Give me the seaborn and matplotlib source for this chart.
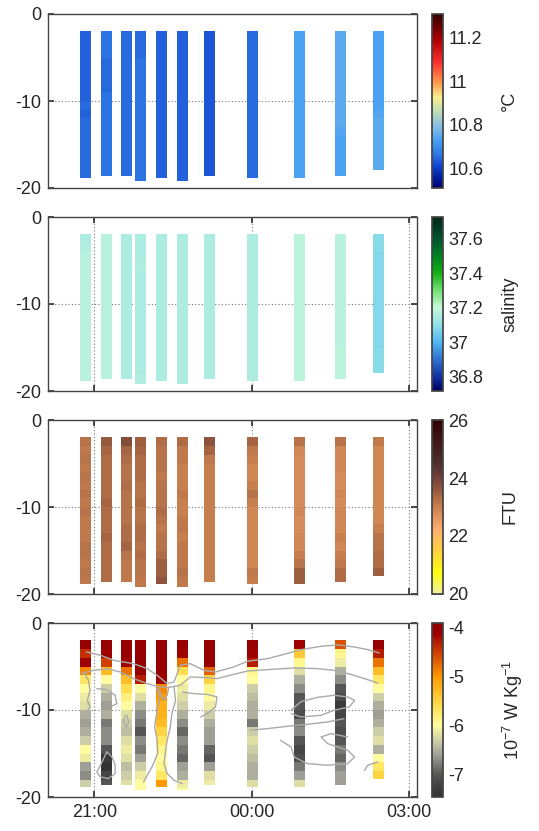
import numpy as np
import matplotlib
matplotlib.use("Agg")
import matplotlib.pyplot as plt
import seaborn as sns
from matplotlib.colors import LinearSegmentedColormap
from matplotlib.ticker import FormatStrFormatter

# cast times (hours, 24 = midnight) and profile bottoms (m)
cast_time = [20.84, 21.23, 21.62, 21.89, 22.29, 22.69, 23.19, 24.02, 24.92, 25.69, 26.41]
cast_bottom = [18.9, 18.65, 18.65, 19.2, 18.9, 19.2, 18.65, 18.9, 18.9, 18.65, 17.9]
cast_top = 2.0

# temperature (degC), 1 m bins from 2 m down
temperature = [
    [10.64, 10.64, 10.64, 10.64, 10.64, 10.64, 10.64, 10.64, 10.65, 10.64, 10.65, 10.65, 10.65, 10.65, 10.65, 10.65, 10.65],
    [10.66, 10.66, 10.66, 10.65, 10.65, 10.65, 10.65, 10.66, 10.66, 10.66, 10.66, 10.66, 10.66, 10.66, 10.66, 10.66, 10.66],
    [10.65, 10.65, 10.65, 10.65, 10.65, 10.65, 10.65, 10.65, 10.65, 10.65, 10.65, 10.65, 10.65, 10.65, 10.65, 10.65, 10.65],
    [10.65, 10.65, 10.65, 10.66, 10.66, 10.66, 10.66, 10.66, 10.66, 10.66, 10.66, 10.66, 10.66, 10.66, 10.66, 10.66, 10.66, 10.66],
    [10.64, 10.64, 10.64, 10.64, 10.64, 10.64, 10.64, 10.64, 10.64, 10.64, 10.64, 10.64, 10.64, 10.64, 10.64, 10.64, 10.64],
    [10.64, 10.64, 10.64, 10.64, 10.64, 10.64, 10.64, 10.64, 10.64, 10.64, 10.64, 10.64, 10.64, 10.64, 10.64, 10.64, 10.64, 10.64],
    [10.63, 10.63, 10.63, 10.63, 10.63, 10.63, 10.63, 10.63, 10.63, 10.63, 10.63, 10.63, 10.63, 10.63, 10.63, 10.63, 10.63],
    [10.65, 10.65, 10.65, 10.65, 10.65, 10.65, 10.65, 10.65, 10.65, 10.65, 10.65, 10.65, 10.65, 10.65, 10.65, 10.65, 10.65],
    [10.73, 10.73, 10.73, 10.73, 10.73, 10.73, 10.73, 10.73, 10.73, 10.73, 10.73, 10.73, 10.73, 10.73, 10.73, 10.73, 10.73],
    [10.75, 10.75, 10.75, 10.75, 10.75, 10.75, 10.75, 10.75, 10.75, 10.75, 10.75, 10.74, 10.73, 10.73, 10.73, 10.73, 10.73],
    [10.73, 10.73, 10.73, 10.73, 10.73, 10.73, 10.73, 10.73, 10.73, 10.74, 10.75, 10.75, 10.75, 10.75, 10.75, 10.75],
]

salinity = [
    [37.15, 37.16, 37.17, 37.17, 37.17, 37.17, 37.17, 37.17, 37.17, 37.17, 37.17, 37.17, 37.17, 37.17, 37.17, 37.17, 37.17],
    [37.17, 37.17, 37.17, 37.17, 37.17, 37.17, 37.17, 37.17, 37.17, 37.17, 37.17, 37.17, 37.17, 37.17, 37.17, 37.17, 37.17],
    [37.15, 37.15, 37.15, 37.15, 37.15, 37.15, 37.15, 37.15, 37.15, 37.15, 37.15, 37.15, 37.15, 37.15, 37.15, 37.15, 37.15],
    [37.15, 37.15, 37.15, 37.16, 37.15, 37.15, 37.15, 37.15, 37.15, 37.15, 37.15, 37.15, 37.15, 37.15, 37.15, 37.15, 37.16, 37.16],
    [37.15, 37.15, 37.15, 37.15, 37.15, 37.15, 37.15, 37.15, 37.15, 37.15, 37.15, 37.15, 37.15, 37.15, 37.15, 37.15, 37.15],
    [37.15, 37.15, 37.15, 37.15, 37.15, 37.15, 37.15, 37.15, 37.15, 37.15, 37.15, 37.15, 37.15, 37.15, 37.15, 37.15, 37.15, 37.15],
    [37.15, 37.15, 37.15, 37.15, 37.15, 37.15, 37.15, 37.15, 37.15, 37.15, 37.15, 37.15, 37.15, 37.15, 37.15, 37.15, 37.15],
    [37.15, 37.15, 37.15, 37.15, 37.15, 37.15, 37.15, 37.15, 37.15, 37.15, 37.15, 37.15, 37.15, 37.15, 37.15, 37.15, 37.15],
    [37.18, 37.18, 37.18, 37.18, 37.18, 37.18, 37.18, 37.18, 37.18, 37.18, 37.18, 37.18, 37.18, 37.18, 37.18, 37.18, 37.18],
    [37.17, 37.17, 37.17, 37.17, 37.17, 37.17, 37.17, 37.17, 37.17, 37.17, 37.17, 37.17, 37.17, 37.18, 37.18, 37.18, 37.18],
    [37.09, 37.09, 37.08, 37.08, 37.08, 37.08, 37.08, 37.08, 37.08, 37.08, 37.08, 37.08, 37.08, 37.09, 37.09, 37.09],
]

turbidity = [
    [23.2, 23.1, 23.2, 23.1, 23.2, 23.1, 23.2, 23.1, 23.2, 23.1, 23.1, 23.1, 23.2, 23.2, 23.1, 23.2, 23.1],
    [23.6, 23.4, 23.3, 23.3, 23.3, 23.3, 23.3, 23.4, 23.3, 23.3, 23.3, 23.4, 23.3, 23.3, 23.3, 23.3, 23.3],
    [23.8, 23.4, 23.3, 23.2, 23.2, 23.3, 23.2, 23.2, 23.2, 23.2, 23.3, 23.3, 23.4, 23.2, 23.1, 23.1, 23.1],
    [23.5, 23.4, 23.3, 23.3, 23.3, 23.2, 23.2, 23.3, 23.2, 23.2, 23.3, 23.3, 23.2, 23.3, 23.2, 23.2, 23.1, 23.1],
    [23.3, 23.2, 23.2, 23.2, 23.1, 23.2, 23.2, 23.2, 23.3, 23.2, 23.1, 23.2, 23.2, 23.3, 23.5, 23.5, 23.7],
    [23.3, 23.1, 23.1, 23.0, 23.0, 23.0, 23.1, 23.0, 23.0, 23.1, 23.1, 23.0, 23.1, 23.1, 23.1, 23.2, 23.1, 23.1],
    [23.7, 23.4, 23.1, 23.0, 23.0, 23.0, 23.0, 23.0, 23.0, 23.0, 23.0, 23.0, 23.0, 23.0, 23.0, 23.0, 23.0],
    [23.4, 23.1, 23.0, 22.9, 22.9, 23.0, 23.2, 23.0, 22.9, 22.9, 22.9, 22.9, 22.9, 22.9, 22.9, 23.1, 23.0],
    [23.2, 22.9, 22.8, 22.8, 22.8, 22.8, 22.8, 22.8, 22.9, 22.8, 22.8, 22.9, 22.9, 23.0, 23.2, 23.5, 23.5],
    [23.2, 22.9, 22.9, 22.9, 22.8, 22.8, 22.9, 22.8, 22.9, 22.9, 22.9, 23.0, 22.9, 23.0, 23.1, 23.3, 23.3],
    [23.1, 22.9, 22.9, 22.9, 22.9, 22.9, 22.9, 22.9, 22.9, 22.9, 23.0, 23.2, 23.2, 23.3, 23.3, 23.5],
]

# log10 dissipation (colorbar in 10^-7 W/kg notation)
dissipation = [
    [-4.0, -4.4, -4.1, -4.9, -5.7, -6.0, -6.1, -6.2, -6.5, -6.6, -6.5, -6.3, -6.0, -6.1, -6.6, -6.7, -6.3],
    [-4.0, -4.1, -4.5, -5.3, -6.0, -6.3, -6.5, -6.6, -6.5, -6.8, -6.7, -6.7, -7.0, -7.3, -7.4, -7.2, -7.0],
    [-4.0, -4.0, -4.1, -4.8, -5.3, -5.6, -5.8, -6.0, -6.2, -6.3, -6.4, -6.2, -6.1, -6.2, -6.4, -6.3, -6.2],
    [-4.0, -4.0, -4.0, -4.0, -4.3, -6.0, -6.2, -6.5, -6.7, -6.8, -7.0, -6.7, -6.8, -6.6, -6.3, -6.1, -6.0, -6.0],
    [-4.0, -4.0, -4.0, -4.0, -4.1, -4.9, -5.0, -5.2, -5.2, -5.3, -5.5, -5.7, -5.9, -6.0, -5.9, -5.7, -5.0],
    [-4.0, -4.1, -4.8, -5.6, -6.0, -6.1, -6.2, -6.3, -6.5, -6.7, -6.9, -6.7, -6.8, -6.9, -6.6, -6.5, -6.1, -6.0],
    [-4.0, -4.0, -4.0, -4.7, -5.5, -5.9, -6.0, -6.1, -6.3, -6.5, -6.6, -6.6, -6.9, -7.0, -6.6, -6.2, -6.1],
    [-4.0, -4.1, -4.3, -5.9, -6.0, -6.3, -6.4, -6.5, -6.5, -6.8, -6.3, -6.2, -6.3, -6.4, -6.5, -6.5, -6.2],
    [-4.1, -5.4, -5.9, -6.2, -6.5, -6.7, -7.0, -7.0, -7.1, -6.8, -6.7, -7.0, -7.2, -7.1, -6.8, -6.6, -6.2],
    [-4.6, -5.9, -6.1, -6.5, -6.7, -7.0, -7.1, -7.3, -7.2, -7.0, -7.1, -7.0, -6.8, -6.9, -6.7, -6.6, -6.6],
    [-4.0, -4.3, -4.8, -5.3, -5.7, -6.0, -6.3, -6.5, -6.6, -6.5, -6.3, -6.2, -6.5, -6.0, -5.7, -5.5],
]

# gray contour lines on the dissipation panel (hours, depth m)
contour_hours = [
    [20.85, 21.12, 21.37, 21.75, 22.01, 22.20, 22.39, 22.52, 22.64, 22.83, 23.09, 23.31, 23.66, 23.92, 24.30, 24.62, 24.94, 25.32, 25.64, 25.96, 26.21, 26.43],
    [20.76, 20.99, 21.24, 21.50, 21.75, 22.01, 22.20, 22.39, 22.64, 22.83, 23.15, 23.34, 23.66, 23.92, 24.30, 24.81, 25.26, 25.57, 25.89, 26.21, 26.40],
    [22.52, 22.55, 22.48, 22.45, 22.39, 22.36, 22.33, 22.39, 22.52, 22.68],
    [22.20, 22.25, 22.20, 22.15, 22.20, 22.21, 22.10, 21.94],
    [22.23, 22.28, 22.33, 22.39, 22.42],
    [20.80, 20.89, 20.92, 20.87, 20.92, 20.85],
    [21.05, 21.24, 21.40, 21.43, 21.31],
    [21.24, 21.18, 21.12, 21.05, 21.12, 21.27, 21.40, 21.40, 21.34, 21.24],
    [21.59, 21.56, 21.61, 21.66, 21.62],
    [22.68, 22.90, 23.15, 23.34, 23.31, 23.15, 23.03],
    [23.98, 24.30, 24.68, 25.06, 25.45, 25.76],
    [24.75, 24.94, 25.26, 25.57, 25.83, 25.96, 25.86, 25.57, 25.32, 24.94, 24.75],
    [24.55, 24.75, 24.81, 25.06, 25.45, 25.83, 25.96, 25.83, 25.45, 25.32, 25.51, 25.83],
    [26.15, 26.21, 26.40],
]
contour_depth = [
    [3.33, 3.71, 4.29, 4.67, 5.25, 6.01, 6.97, 6.78, 4.86, 4.67, 5.44, 5.63, 5.05, 4.40, 4.10, 3.60, 3.06, 2.68, 2.52, 2.76, 3.06, 3.44],
    [5.82, 5.44, 5.25, 5.63, 6.39, 6.97, 7.28, 7.43, 7.16, 6.20, 6.28, 6.39, 5.90, 5.52, 5.36, 5.17, 5.25, 5.44, 5.90, 6.51, 6.90],
    [7.35, 8.89, 10.42, 11.95, 13.48, 14.63, 16.16, 17.31, 18.08, 18.46],
    [7.55, 8.50, 10.03, 11.95, 13.48, 15.01, 16.55, 18.27],
    [7.55, 8.31, 8.89, 8.31, 7.43],
    [5.63, 6.59, 7.74, 8.89, 9.65, 10.22],
    [7.55, 7.66, 8.31, 9.27, 9.65],
    [14.82, 15.59, 16.35, 17.12, 17.70, 17.89, 17.31, 16.35, 15.40, 14.82],
    [10.61, 11.37, 11.95, 11.37, 10.61],
    [7.93, 8.12, 8.20, 8.50, 9.65, 10.42, 10.80],
    [12.33, 12.14, 11.87, 11.64, 11.37, 10.99],
    [10.03, 9.04, 8.54, 8.31, 8.50, 8.89, 9.65, 10.03, 10.61, 10.80, 10.42],
    [13.48, 14.25, 15.40, 16.16, 16.35, 16.16, 15.40, 14.63, 13.87, 13.10, 12.72, 13.10],
    [16.93, 16.35, 15.97],
]

x_ticks = [21, 24, 27]
x_ticklabels = ["21:00", "00:00", "03:00"]

sns.set_theme(style="ticks")
plt.rcParams["font.family"] = ["Liberation Sans", "DejaVu Sans"]
plt.rcParams["axes.unicode_minus"] = False
plt.rcParams["mathtext.fontset"] = "custom"
plt.rcParams["mathtext.rm"] = "Liberation Sans"
plt.rcParams["mathtext.it"] = "Liberation Sans"

cm_temp = LinearSegmentedColormap.from_list("temp", [
    (0.0, "#000070"), (0.06, "#0020a0"), (0.12, "#1040d0"), (0.18, "#2a70e0"),
    (0.27, "#45a0f5"), (0.36, "#8cc0e0"), (0.45, "#c8e0b0"), (0.52, "#f8f090"),
    (0.60, "#ffa050"), (0.72, "#ff3030"), (0.85, "#b00000"), (1.0, "#300000")])
cm_sal = LinearSegmentedColormap.from_list("sal", [
    (0.0, "#000060"), (0.08, "#1030a0"), (0.18, "#3070d0"), (0.28, "#50b8f0"),
    (0.38, "#90e0e8"), (0.48, "#c8f8d8"), (0.58, "#70e070"), (0.68, "#10b010"),
    (0.78, "#008020"), (0.88, "#005030"), (1.0, "#002818")])
cm_ftu = LinearSegmentedColormap.from_list("ftu", [
    (0.0, "#f0f0a0"), (0.12, "#ffff10"), (0.25, "#ffd040"), (0.37, "#ffb070"),
    (0.5, "#c88050"), (0.58, "#a06040"), (0.67, "#704038"), (0.75, "#503030"),
    (0.88, "#401818"), (1.0, "#300000")])
cm_eps = LinearSegmentedColormap.from_list("eps", [
    (0.0, "#303030"), (0.127, "#555555"), (0.24, "#a0a098"), (0.32, "#cccca8"),
    (0.41, "#fffca0"), (0.52, "#ffe050"), (0.69, "#ff9a00"), (0.83, "#d04000"),
    (0.94, "#a00000"), (1.0, "#900000")])

panels = [
    (temperature, cm_temp, 10.51, 11.31, [10.6, 10.8, 11, 11.2], "°C"),
    (salinity, cm_sal, 36.716, 37.726, [36.8, 37, 37.2, 37.4, 37.6], "salinity"),
    (turbidity, cm_ftu, 20, 26, [20, 22, 24, 26], "FTU"),
    (dissipation, cm_eps, -7.45, -3.9, [-7, -6, -5, -4], "$10^{-7}$ W Kg$^{-1}$"),
]

W, H = 539, 831
fig = plt.figure(figsize=(W / 100, H / 100), dpi=100)
bar_w = 0.21
panel_tops = [14, 217, 420, 623]
panel_h = 174

for i, (data, cmap, vmin, vmax, cticks, clabel) in enumerate(panels):
    top = panel_tops[i]
    ax = fig.add_axes([48 / W, 1 - (top + panel_h) / H, 369 / W, panel_h / H])
    mesh = None
    for t, bot, prof in zip(cast_time, cast_bottom, data):
        edges = np.arange(cast_top, np.floor(bot) + 1)
        if bot > edges[-1]:
            edges = np.append(edges, bot)
        xe = [t - bar_w / 2, t + bar_w / 2]
        mesh = ax.pcolormesh(xe, -edges, np.array(prof)[:, None], cmap=cmap,
                             vmin=vmin, vmax=vmax, shading="flat")
    if i == 3:
        for xs, ds in zip(contour_hours, contour_depth):
            sns.lineplot(x=xs, y=-np.array(ds), sort=False, estimator=None,
                         color="#aaaaaa", lw=1.0, ax=ax)
    ax.set_xlim(20.12, 27.15)
    ax.set_ylim(-20, 0)
    ax.set_yticks([-20, -10, 0])
    ax.set_yticklabels(["-20", "-10", "0"])
    ax.axhline(-10, color="#777777", lw=0.8, ls=(0, (1, 2)), zorder=0)
    if i == 0:
        ax.set_xticks([])
    else:
        ax.set_xticks(x_ticks)
        for xt in x_ticks:
            ax.axvline(xt, color="#777777", lw=0.8, ls=(0, (1, 2)), zorder=0)
    if i == 3:
        ax.set_xticklabels(x_ticklabels)
    else:
        ax.set_xticklabels([])
    ax.tick_params(direction="in", labelsize=13, length=4, top=True, right=True,
                   color="#333333", pad=5)
    for s in ax.spines.values():
        s.set_color("#444444")
        s.set_linewidth(1.0)

    cax = fig.add_axes([432 / W, 1 - (top + panel_h) / H, 11 / W, panel_h / H])
    cb = fig.colorbar(mesh, cax=cax)
    cb.set_ticks(cticks)
    cb.ax.yaxis.set_major_formatter(FormatStrFormatter("%g"))
    cb.ax.tick_params(direction="in", labelsize=13, length=3, left=True, right=True,
                      color="#333333", pad=4)
    cb.outline.set_edgecolor("#444444")
    cb.set_label(clabel, fontsize=13)
    cb.ax.yaxis.set_label_coords(6.3, 0.5)

fig.savefig("out.png", dpi=100)
